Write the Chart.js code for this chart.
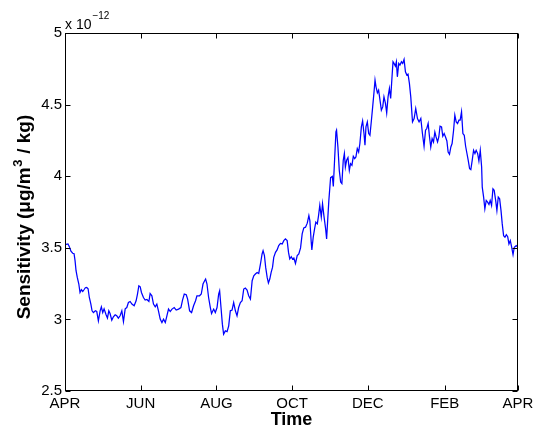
<!DOCTYPE html>
<html><head><meta charset="utf-8">
<script src="https://cdn.jsdelivr.net/npm/chart.js@4/dist/chart.umd.min.js"></script>
<style>html,body{margin:0;padding:0;background:#fff;} canvas{display:block;}</style>
</head><body>
<canvas id="c" width="533" height="431"></canvas>
<script>
// Tick positions (days since 1 April) and labels
const tickDays = [0, 61, 122, 183, 244, 306, 365];
const tickLabels = ['APR', 'JUN', 'AUG', 'OCT', 'DEC', 'FEB', 'APR'];

// Time of each sample (days since 1 April)
const days = [0,2.4,3.5,4.8,6.2,7.3,8.1,8.9,9.9,11.1,12.1,13.2,14.3,15.3,16.4,17.5,18.6,19.6,20.8,21.8,22.9,24.5,25.6,26.9,28.3,29.3,30.4,31.5,33.1,34.2,35.3,36.3,37.7,39.0,40.4,41.7,43.0,44.4,45.8,47.1,48.5,49.8,51.1,52.5,53.9,55.7,57.3,58.4,59.5,60.6,61.6,63.2,64.6,66.0,67.6,
68.6,70.0,71.3,72.7,74.0,75.3,76.7,78.1,79.4,80.8,82.1,83.4,84.8,86.2,88.0,89.6,91.5,93.4,94.7,96.1,97.7,98.8,100.4,102.0,103.6,105.2,106.3,108.4,109.8,111.2,112.5,113.3,114.4,115.7,117.1,118.1,119.8,121.1,122.5,123.8,124.6,125.7,126.8,127.8,129.2,130.6,131.9,133.2,134.6,135.9,137.3,138.6,139.9,141.3,
142.7,144.0,145.3,146.7,148.0,149.4,150.8,152.1,153.4,154.8,156.1,157.5,158.8,159.6,160.7,161.7,162.9,163.9,165.0,166.1,167.2,168.2,169.6,170.9,172.2,173.6,175.0,176.3,177.6,179.0,180.1,181.1,182.3,183.3,184.4,185.7,187.1,188.4,189.8,191.1,192.4,193.8,195.2,196.5,197.3,198.4,198.9,200.0,201.1,202.1,203.3,204.3,205.3,206.5,207.5,208.6,210.0,210.8,211.8,212.6,
214.0,215.4,216.2,217.2,218.3,218.8,219.9,221.0,222.1,223.1,224.2,225.1,225.9,226.9,228.0,229.1,230.1,231.2,232.3,233.4,234.4,235.5,236.6,237.6,238.8,239.8,240.9,241.7,242.5,243.6,244.7,245.7,246.9,247.9,249.0,249.8,250.6,251.7,252.7,253.8,254.9,256.0,257.0,258.2,259.2,260.3,261.4,262.4,263.5,264.3,265.1,266.2,267.0,267.8,268.9,269.9,271.1,272.1,273.2,274.3,275.4,276.4,277.5,278.6,
280.0,281.3,282.6,284.0,285.3,286.7,288.0,289.3,290.5,291.5,292.6,293.7,294.7,295.8,296.9,298.0,299.0,300.2,301.2,302.2,303.4,304.4,305.5,306.6,307.7,308.7,309.8,310.9,311.9,313.1,314.1,315.2,316.3,317.4,318.4,319.5,320.6,321.7,322.8,323.8,324.9,326.0,327.0,328.1,329.2,330.3,331.3,332.5,333.5,334.6,335.7,336.2,337.3,338.3,339.4,340.5,341.6,342.6,343.7,344.8,345.8,347.0,348.0,349.1,350.2,351.3,352.3,353.4,354.5,355.6,356.7,357.7,358.8,359.9,361.0,362.0,363.6,365];

// Sensitivity values (x 10^-12 ug/m3 per kg)
const sensitivity = [3.522,3.527,3.508,3.476,3.462,3.459,3.410,3.340,3.293,3.249,3.188,3.207,3.195,3.207,3.221,3.223,3.214,3.153,3.109,3.060,3.048,3.060,3.055,2.990,3.060,3.088,3.048,3.074,3.032,3.009,3.060,3.041,2.995,3.018,3.032,3.025,3.009,3.025,3.060,2.985,3.074,3.083,3.118,3.125,3.107,3.095,3.130,3.177,3.235,3.228,3.188,3.153,3.135,3.139,3.125,
3.181,3.165,3.107,3.088,3.107,3.060,3.002,2.978,3.002,2.978,3.025,3.072,3.055,3.072,3.083,3.065,3.072,3.083,3.135,3.177,3.172,3.142,3.060,3.048,3.095,3.130,3.165,3.165,3.177,3.247,3.270,3.282,3.247,3.153,3.083,3.041,3.072,3.048,3.083,3.177,3.200,3.083,2.967,2.897,2.920,2.915,2.955,3.060,3.065,3.118,3.060,3.025,3.083,3.118,
3.130,3.212,3.219,3.205,3.165,3.142,3.270,3.305,3.317,3.328,3.321,3.387,3.457,3.480,3.445,3.363,3.293,3.254,3.282,3.328,3.363,3.433,3.468,3.485,3.515,3.531,3.527,3.550,3.562,3.550,3.468,3.422,3.438,3.422,3.429,3.391,3.445,3.457,3.499,3.597,3.639,3.644,3.672,3.725,3.690,3.539,3.485,3.574,3.632,3.679,3.667,3.725,3.796,3.714,3.807,3.725,3.632,3.562,3.714,3.831,
3.990,3.999,3.929,4.111,4.309,4.321,4.204,4.041,3.959,3.948,4.111,4.158,4.064,4.111,4.130,4.041,4.088,4.076,4.139,4.123,4.134,4.193,4.169,4.228,4.344,4.386,4.298,4.216,4.344,4.379,4.298,4.286,4.391,4.484,4.589,4.671,4.624,4.582,4.601,4.531,4.461,4.484,4.554,4.508,4.442,4.554,4.613,4.543,4.694,4.799,4.788,4.769,4.799,4.694,4.788,4.776,4.799,4.788,4.816,4.729,4.706,4.713,4.648,4.554,
4.379,4.403,4.473,4.403,4.379,4.403,4.298,4.209,4.321,4.333,4.368,4.274,4.204,4.263,4.239,4.309,4.274,4.239,4.274,4.349,4.344,4.279,4.298,4.274,4.246,4.169,4.153,4.204,4.228,4.321,4.426,4.379,4.368,4.391,4.391,4.449,4.298,4.286,4.209,4.162,4.111,4.053,4.046,4.111,4.181,4.158,4.181,4.158,4.106,4.181,4.064,3.924,3.854,3.772,3.831,3.819,3.803,3.831,3.796,3.912,3.901,3.831,3.761,3.854,3.842,3.761,3.667,3.585,3.574,3.592,3.578,3.527,3.550,3.504,3.452,3.504,3.515,3.504];

const yMin = 2.5, yMax = 5, yStep = 0.5;
const exponentBase = 'x 10';
const exponentPower = '\u221212';
const yTitleParts = ['Sensitivity (\u03bcg/m', '3', ' / kg)'];
const xTitle = 'Time';

const FONT = '"Liberation Sans", Arial, Helvetica, sans-serif';
Chart.defaults.font.family = FONT;
Chart.defaults.color = '#000';

const boxPlugin = {
  id: 'matlabBox',
  afterDatasetsDraw(chart) {
    const {ctx, chartArea: a, scales: {x, y}} = chart;
    ctx.save();
    ctx.strokeStyle = '#000';
    ctx.lineWidth = 1;
    const L = Math.round(a.left) + 0.5, R = Math.round(a.right) - 0.5;
    const T = Math.round(a.top) + 0.5, B = Math.round(a.bottom) - 0.5;
    ctx.strokeRect(L, T, R - L, B - T);
    const tl = 5;
    ctx.beginPath();
    x.ticks.forEach(t => {
      const px = Math.round(x.getPixelForValue(t.value)) + 0.5;
      ctx.moveTo(px, B); ctx.lineTo(px, B - tl);
      ctx.moveTo(px, T); ctx.lineTo(px, T + tl);
    });
    y.ticks.forEach(t => {
      const py = Math.round(y.getPixelForValue(t.value)) + 0.5;
      ctx.moveTo(L, py); ctx.lineTo(L + tl, py);
      ctx.moveTo(R, py); ctx.lineTo(R - tl, py);
    });
    ctx.stroke();

    // exponent label above the y axis
    ctx.fillStyle = '#000';
    ctx.textAlign = 'left';
    ctx.textBaseline = 'alphabetic';
    ctx.font = '14px ' + FONT;
    ctx.fillText(exponentBase, a.left, a.top - 4);
    const w = ctx.measureText(exponentBase).width;
    ctx.font = '10px ' + FONT;
    ctx.fillText(exponentPower, a.left + w + 1, a.top - 14);

    // y-axis title with a true superscript
    const mainFont = 'bold 19px ' + FONT, supFont = 'bold 13px ' + FONT;
    ctx.font = mainFont; const w1 = ctx.measureText(yTitleParts[0]).width;
    ctx.font = supFont;  const w2 = ctx.measureText(yTitleParts[1]).width;
    ctx.font = mainFont; const w3 = ctx.measureText(yTitleParts[2]).width;
    const total = w1 + w2 + w3 + 1;
    ctx.translate(30, (a.top + a.bottom) / 2 + 5);
    ctx.rotate(-Math.PI / 2);
    let sx = -total / 2;
    ctx.font = mainFont; ctx.fillText(yTitleParts[0], sx, 0); sx += w1;
    ctx.font = supFont;  ctx.fillText(yTitleParts[1], sx + 0.5, -8); sx += w2 + 1;
    ctx.font = mainFont; ctx.fillText(yTitleParts[2], sx, 0);
    ctx.restore();
  }
};

new Chart(document.getElementById('c'), {
  type: 'line',
  data: {
    datasets: [{
      data: days.map((d, i) => ({x: d, y: sensitivity[i]})),
      borderColor: '#0000ff',
      borderWidth: 1.25,
      pointRadius: 0,
      tension: 0,
      fill: false
    }]
  },
  options: {
    responsive: false,
    animation: false,
    layout: {padding: {left: 0, right: 15, top: 33, bottom: 0}},
    plugins: {legend: {display: false}, tooltip: {enabled: false}},
    scales: {
      x: {
        type: 'linear',
        min: tickDays[0],
        max: tickDays[tickDays.length - 1],
        afterBuildTicks: s => { s.ticks = tickDays.map(v => ({value: v})); },
        afterFit: s => { s.height = 40; s.paddingLeft = 0; s.paddingRight = 0; },
        grid: {display: false, drawTicks: false},
        border: {display: false},
        ticks: {
          autoSkip: false, maxRotation: 0, padding: 4,
          font: {size: 15}, color: '#000',
          callback: (v, i) => tickLabels[i]
        },
        title: {display: true, text: xTitle, font: {size: 18, weight: 'bold'}, color: '#000', padding: {top: 0, bottom: 0}}
      },
      y: {
        min: yMin, max: yMax,
        afterFit: s => { s.width = 65; s.paddingTop = 0; s.paddingBottom = 0; },
        grid: {display: false, drawTicks: false},
        border: {display: false},
        ticks: {
          stepSize: yStep, padding: 3,
          font: {size: 15}, color: '#000',
          callback: v => String(+v.toFixed(1))
        },
        title: {display: false}
      }
    }
  },
  plugins: [boxPlugin]
});
</script>
</body></html>
